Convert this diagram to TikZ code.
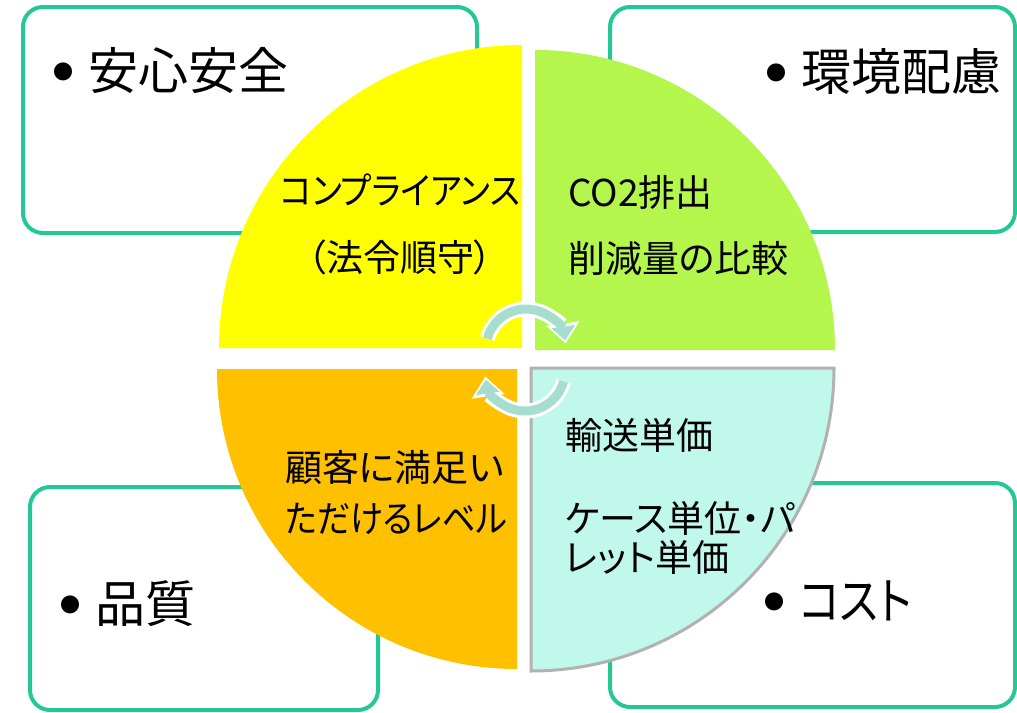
\documentclass[tikz,border=0pt]{standalone}
\usepackage{fontspec}
\usepackage{graphicx}
\setmainfont{Noto Sans CJK JP}[RawFeature=+palt]
\newfontfamily\jpfull{Noto Sans CJK JP}
\usetikzlibrary{arrows.meta}
\definecolor{boxline}{RGB}{38,199,150}
\definecolor{yellowq}{RGB}{255,255,0}
\definecolor{greenq}{RGB}{180,246,76}
\definecolor{orangeq}{RGB}{255,192,0}
\definecolor{cyanq}{RGB}{192,248,235}
\definecolor{cyanborder}{RGB}{178,178,178}
\definecolor{arrowc}{RGB}{166,221,206}
\newcommand{\bulmark}{\makebox[36pt][l]{\hspace{1pt}\raisebox{9.5pt}{\jpfull\fontsize{20pt}{20pt}\selectfont ●}}}
\tikzset{
  outerbox/.style={draw=boxline, line width=4pt, rounded corners=20pt, fill=white, inner sep=0pt},
  outerlabel/.style={font=\fontsize{50pt}{60pt}\selectfont, anchor=base west, inner sep=0pt},
  innerlabel/.style={font=\fontsize{37pt}{44pt}\selectfont, anchor=base west, inner sep=0pt},
  arrowwhite/.style={draw=white, line width=15pt, -{Triangle[width=32pt,length=20pt]}},
  arrowteal/.style={draw=arrowc, line width=9pt, -{Triangle[width=23pt,length=14pt]}, shorten >=3pt},
}
\begin{document}
\begin{tikzpicture}[x=1pt,y=-1pt]
\useasboundingbox (0,0) rectangle (1017,712);
\fill[white] (0,0) rectangle (1017,712);
% outer boxes
\node[outerbox, minimum width=454pt, minimum height=226pt] (boxTL) at (250,120) {};
\node[outerbox, minimum width=405pt, minimum height=225pt] (boxTR) at (812.5,119.5) {};
\node[outerbox, minimum width=348pt, minimum height=223pt] (boxBL) at (204,598.5) {};
\node[outerbox, minimum width=405pt, minimum height=224pt] (boxBR) at (812.5,595) {};
% outer labels
\node[outerlabel] (tTL) at (52,89) {\bulmark 安心安全};
\node[outerlabel] (tTR) at (765,90) {\bulmark 環境配慮};
\node[outerlabel] (tBL) at (59,622) {\bulmark 品質};
\node[outerlabel] (tBR) at (763,619) {\bulmark\scalebox{0.86}[1]{コスト}};
% quadrants
\fill[yellowq] (522,348) -- ++(-303,0) arc[start angle=180, end angle=270, radius=303] -- cycle;
\fill[greenq] (535,350) -- ++(0,-300) arc[start angle=270, end angle=360, radius=300] -- cycle;
\fill[orangeq] (517,369) -- ++(-300,0) arc[start angle=180, end angle=90, radius=300] -- cycle;
\filldraw[fill=cyanq, draw=cyanborder, line width=3pt] (531,368) -- ++(303,0) arc[start angle=0, end angle=90, radius=303] -- cycle;
% inner labels
\node[innerlabel, anchor=base] (y1) at (400,204) {\scalebox{0.91}[1]{コンプライアンス}};
\node[innerlabel, anchor=base] (y2) at (400,271) {（法令順守）};
\node[innerlabel] (g1) at (568,206) {CO2排出};
\node[innerlabel] (g2) at (568,272) {削減量の比較};
\node[innerlabel] (o1) at (285,481) {顧客に満足い};
\node[innerlabel] (o2) at (285,532) {\scalebox{0.9}[1]{ただけるレベル}};
\node[innerlabel] (c1) at (565,449) {輸送単価};
\node[innerlabel] (c2) at (565,532) {ケース単位・パ};
\node[innerlabel] (c3) at (565,571) {レット単価};
% cycle arrows
\coordinate (ca) at (526,349);
\coordinate (cb) at (525,371);
\draw[arrowwhite] ([shift={(-165:40)}]ca) arc[start angle=-165, end angle=-8, radius=40];
\draw[arrowteal] ([shift={(-165:40)}]ca) arc[start angle=-165, end angle=-8, radius=40];
\draw[arrowwhite] ([shift={(15:40)}]cb) arc[start angle=15, end angle=172, radius=40];
\draw[arrowteal] ([shift={(15:40)}]cb) arc[start angle=15, end angle=172, radius=40];
\end{tikzpicture}
\end{document}
